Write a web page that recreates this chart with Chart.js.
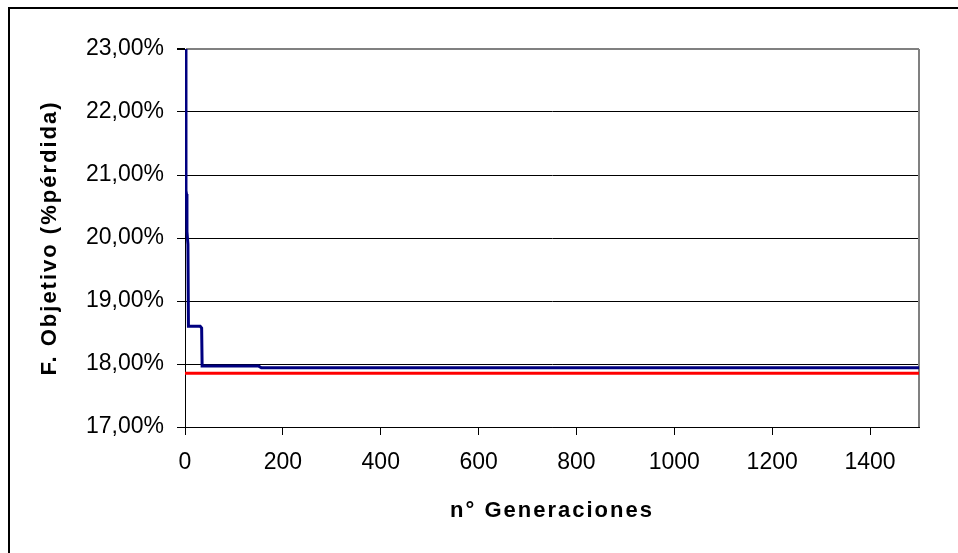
<!DOCTYPE html>
<html>
<head>
<meta charset="utf-8">
<script src="https://cdn.jsdelivr.net/npm/chart.js@4/dist/chart.umd.min.js"></script>
<style>
  html, body { margin: 0; padding: 0; background: #fff; }
  canvas { display: block; }
</style>
</head>
<body>
<canvas id="c" width="958" height="553"></canvas>
<script>
// ---- data ----
const generations = [1, 2, 3, 4, 6, 7, 25, 31, 34, 35, 150, 156, 1500];
const objective   = [23.0, 20.75, 20.7, 20.1, 19.9, 18.6, 18.6, 18.6, 18.57, 17.97, 17.97, 17.94, 17.94];
const referenceX  = [0, 1500];
const referenceY  = [17.855, 17.855];
const xTicks = [0, 200, 400, 600, 800, 1000, 1200, 1400];
const yTicks = [17, 18, 19, 20, 21, 22, 23];
const xTitle = 'n° Generaciones';
const yTitle = 'F. Objetivo (%pérdida)';

const FONT = "'Liberation Sans', Arial, sans-serif";

const frame = {
  id: 'frame',
  beforeDraw(chart) {
    const ctx = chart.ctx;
    ctx.save();
    ctx.fillStyle = '#000';
    ctx.fillRect(8, 7, chart.width - 8, 2);
    ctx.fillRect(8, 7, 2, chart.height - 7);
    ctx.restore();
  },
  beforeDatasetsDraw(chart) {
    const a = chart.chartArea, ctx = chart.ctx;
    ctx.save();
    ctx.strokeStyle = '#808080';
    ctx.lineWidth = 2;
    ctx.beginPath();
    ctx.moveTo(a.right, a.top);
    ctx.lineTo(a.right, a.bottom);
    ctx.stroke();
    ctx.restore();
  },
  afterUpdate(chart) {
    Object.values(chart.scales).forEach(s => {
      if (s._spaced) return;
      const orig = s.drawTitle.bind(s);
      s.drawTitle = function () {
        const ctx = this.ctx;
        ctx.save();
        ctx.letterSpacing = '2px';
        orig();
        ctx.restore();
      };
      s._spaced = true;
    });
  }
};

new Chart(document.getElementById('c'), {
  type: 'line',
  data: {
    datasets: [
      {
        data: generations.map((g, i) => ({ x: g, y: objective[i] })),
        borderColor: '#000080',
        borderWidth: 3,
        pointRadius: 0,
        tension: 0,
        fill: false
      },
      {
        data: referenceX.map((g, i) => ({ x: g, y: referenceY[i] })),
        borderColor: '#ff0000',
        borderWidth: 3,
        pointRadius: 0,
        tension: 0,
        fill: false
      }
    ]
  },
  options: {
    responsive: false,
    animation: false,
    devicePixelRatio: 1,
    layout: { padding: { left: 10, top: 49, right: 39, bottom: 0 } },
    plugins: { legend: { display: false }, tooltip: { enabled: false } },
    scales: {
      x: {
        type: 'linear',
        min: 0,
        max: 1500,
        afterBuildTicks(scale) { scale.ticks = xTicks.map(v => ({ value: v })); },
        afterFit(scale) { scale.height = 126; },
        grid: { drawOnChartArea: false, drawTicks: true, tickLength: 8, tickColor: '#000', lineWidth: 1 },
        border: { display: true, color: '#000', width: 1 },
        ticks: { color: '#000', font: { family: FONT, size: 23 }, padding: 14, maxRotation: 0,
                 callback: v => String(v) },
        title: { display: true, text: xTitle, color: '#000',
                 font: { family: FONT, size: 22, weight: 'bold' }, padding: { top: 0, bottom: 29 } }
      },
      y: {
        min: 17,
        max: 23,
        afterBuildTicks(scale) { scale.ticks = yTicks.map(v => ({ value: v })); },
        afterFit(scale) { scale.width = 175; },
        grid: {
          color: c => (c.tick && c.tick.value === 23 ? '#808080' : '#000'),
          lineWidth: c => (c.tick && c.tick.value === 23 ? 2 : 1),
          tickColor: '#000',
          tickLength: 8,
          drawTicks: true
        },
        border: { display: true, color: '#000', width: 1 },
        ticks: { color: '#000', font: { family: FONT, size: 23 }, padding: 13,
                 callback: v => v.toFixed(2).replace('.', ',') + '%' },
        title: { display: true, text: yTitle, color: '#000',
                 font: { family: FONT, size: 22, weight: 'bold' }, padding: { top: 27, bottom: 0 } }
      }
    }
  },
  plugins: [frame]
});
</script>
</body>
</html>
